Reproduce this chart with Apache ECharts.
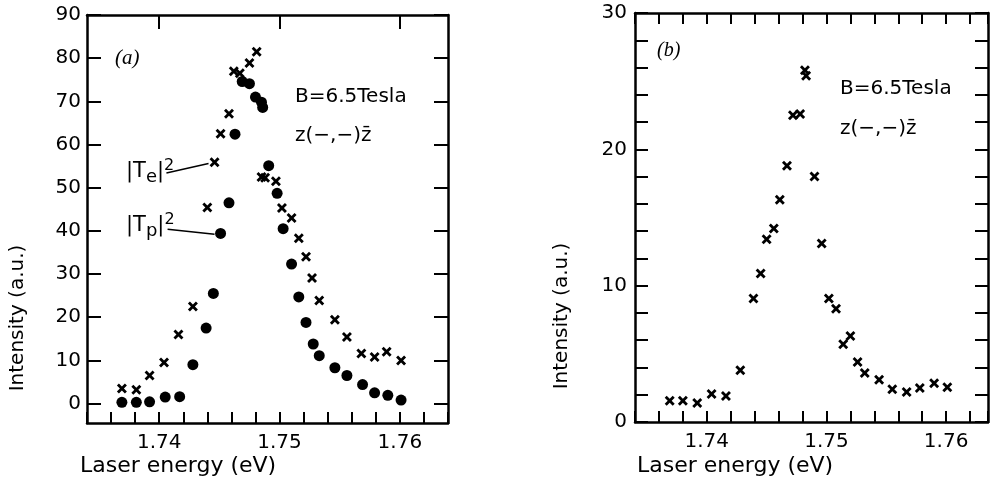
<!DOCTYPE html>
<html>
<head>
<meta charset="utf-8">
<script src="https://cdn.jsdelivr.net/npm/echarts@6/dist/echarts.min.js"></script>
<style>
  html, body { margin: 0; padding: 0; background: #fff; }
  #main { width: 1002px; height: 487px; }
</style>
</head>
<body>
<div id="main"></div>
<script>
// panel (a): |Te|^2 (crosses) and |Tp|^2 (dots)
const teEnergy = [1.7369, 1.7381, 1.7392, 1.7404, 1.7416, 1.7428, 1.7440, 1.7446, 1.7451, 1.7458,
  1.7462, 1.7467, 1.7475, 1.7481, 1.7485, 1.7488, 1.7497, 1.7502, 1.7510, 1.7516,
  1.7522, 1.7527, 1.7533, 1.7546, 1.7556, 1.7568, 1.7579, 1.7589, 1.7601];
const teValue = [3.5, 3.2, 6.5, 9.5, 16.0, 22.5, 45.4, 55.9, 62.5, 67.1,
  77.0, 76.5, 78.9, 81.5, 52.5, 52.3, 51.5, 45.3, 43.0, 38.3,
  34.0, 29.1, 23.9, 19.4, 15.4, 11.6, 10.8, 12.0, 10.0];

const tpEnergy = [1.7369, 1.7381, 1.7392, 1.7405, 1.7417, 1.7428, 1.7439, 1.7445, 1.7451, 1.7458,
  1.7463, 1.7469, 1.7475, 1.7480, 1.7485, 1.7486, 1.7491, 1.7498, 1.7503, 1.7510,
  1.7516, 1.7522, 1.7528, 1.7533, 1.7546, 1.7556, 1.7569, 1.7579, 1.7590, 1.7601];
const tpValue = [0.3, 0.3, 0.4, 1.5, 1.6, 9.0, 17.5, 25.5, 39.4, 46.5,
  62.4, 74.6, 74.1, 71.0, 69.8, 68.6, 55.1, 48.7, 40.5, 32.3,
  24.7, 18.8, 13.8, 11.1, 8.3, 6.5, 4.4, 2.5, 1.9, 0.8];

// leader lines from the labels to the points (energy, intensity)
const teLeader = [[1.7406, 53.4], [1.7441, 55.6]];
const tpLeader = [[1.7407, 40.4], [1.7446, 39.2]];

// panel (b)
const bEnergy = [1.7369, 1.7380, 1.7392, 1.7404, 1.7416, 1.7428, 1.7439, 1.7445, 1.7450, 1.7456,
  1.7461, 1.7467, 1.7472, 1.7478, 1.7482, 1.7483, 1.7490, 1.7496, 1.7502, 1.7508,
  1.7514, 1.7520, 1.7526, 1.7532, 1.7544, 1.7555, 1.7567, 1.7578, 1.7590, 1.7601];
const bValue = [1.55, 1.55, 1.4, 2.05, 1.9, 3.8, 9.05, 10.9, 13.4, 14.2,
  16.3, 18.8, 22.5, 22.6, 25.8, 25.4, 18.0, 13.1, 9.05, 8.3,
  5.7, 6.3, 4.4, 3.6, 3.1, 2.4, 2.2, 2.5, 2.85, 2.55];

const aYTicks = [0, 10, 20, 30, 40, 50, 60, 70, 80, 90];
const xLabels = [1.74, 1.75, 1.76];

const pairs = (xs, ys) => xs.map((x, i) => [x, ys[i]]);

// bold X marker
const cross = 'path://M2,0L5,3L8,0L10,2L7,5L10,8L8,10L5,7L2,10L0,8L3,5L0,2Z';
const font = 'DejaVu Sans';
const black = '#000';

const axisLine = { show: true, onZero: false, lineStyle: { color: black, width: 2.5 } };

function xFmt(v) {
  return Math.abs(v * 100 - Math.round(v * 100)) < 1e-6 ? v.toFixed(2) : '';
}

function xAxes(grid, max, topTicks) {
  return [
    {
      gridIndex: grid, type: 'value', position: 'bottom', min: 1.734, max: max, interval: 0.002,
      axisLine: axisLine,
      axisTick: { inside: true, length: 11, lineStyle: { color: black, width: 2 } },
      axisLabel: { formatter: xFmt, fontFamily: font, fontSize: 20, color: black, margin: 10, showMinLabel: true, showMaxLabel: true },
      splitLine: { show: false }
    },
    {
      gridIndex: grid, type: 'value', position: 'top', min: 1.734, max: max, interval: 0.002,
      axisLine: axisLine,
      axisTick: topTicks
        ? { inside: true, length: 14, customValues: xLabels, lineStyle: { color: black, width: 2 } }
        : { inside: true, length: 11, lineStyle: { color: black, width: 2 } },
      axisLabel: { show: false },
      splitLine: { show: false }
    }
  ];
}

const chart = echarts.init(document.getElementById('main'));

const markStyle = { color: black, opacity: 1 };

chart.setOption({
  backgroundColor: '#fff',
  animation: false,
  grid: [
    { left: 87, top: 15, width: 361, height: 408 },
    { left: 635, top: 13, width: 353, height: 409 }
  ],
  xAxis: [].concat(xAxes(0, 1.764, true), xAxes(1, 1.7635, false)),
  yAxis: [
    {
      gridIndex: 0, type: 'value', position: 'left', min: -4.5, max: 90,
      axisLine: axisLine,
      axisTick: { inside: true, length: 14, customValues: aYTicks, lineStyle: { color: black, width: 2 } },
      axisLabel: { customValues: aYTicks, fontFamily: font, fontSize: 20, color: black, margin: 6 },
      splitLine: { show: false }
    },
    {
      gridIndex: 0, type: 'value', position: 'right', min: -4.5, max: 90,
      axisLine: axisLine,
      axisTick: { inside: true, length: 14, customValues: aYTicks, lineStyle: { color: black, width: 2 } },
      axisLabel: { show: false },
      splitLine: { show: false }
    },
    {
      gridIndex: 1, type: 'value', position: 'left', min: 0, max: 30, interval: 2,
      axisLine: axisLine,
      axisTick: { inside: true, length: 13, lineStyle: { color: black, width: 2 } },
      axisLabel: {
        formatter: v => (v % 10 === 0 ? String(v) : ''),
        fontFamily: font, fontSize: 20, color: black, margin: 8
      },
      splitLine: { show: false }
    },
    {
      gridIndex: 1, type: 'value', position: 'right', min: 0, max: 30, interval: 2,
      axisLine: axisLine,
      axisTick: { inside: true, length: 13, lineStyle: { color: black, width: 2 } },
      axisLabel: { show: false },
      splitLine: { show: false }
    }
  ],
  series: [
    {
      name: '|Te|2', type: 'scatter', xAxisIndex: 0, yAxisIndex: 0,
      symbol: cross, symbolSize: 10, itemStyle: markStyle,
      data: pairs(teEnergy, teValue)
    },
    {
      name: '|Tp|2', type: 'scatter', xAxisIndex: 0, yAxisIndex: 0,
      symbol: 'circle', symbolSize: 11, itemStyle: markStyle,
      data: pairs(tpEnergy, tpValue)
    },
    {
      type: 'line', xAxisIndex: 0, yAxisIndex: 0, symbol: 'none', silent: true,
      lineStyle: { color: black, width: 1.5 }, data: teLeader
    },
    {
      type: 'line', xAxisIndex: 0, yAxisIndex: 0, symbol: 'none', silent: true,
      lineStyle: { color: black, width: 1.5 }, data: tpLeader
    },
    {
      name: '(b)', type: 'scatter', xAxisIndex: 2, yAxisIndex: 2,
      symbol: cross, symbolSize: 10, itemStyle: markStyle,
      data: pairs(bEnergy, bValue)
    }
  ],
  graphic: [
    // axis titles
    { type: 'text', x: 18, y: 318, rotation: Math.PI / 2,
      style: { text: 'Intensity (a.u.)', font: '20px "DejaVu Sans"', fill: black, align: 'center', verticalAlign: 'middle' } },
    { type: 'text', x: 562, y: 316, rotation: Math.PI / 2,
      style: { text: 'Intensity (a.u.)', font: '20px "DejaVu Sans"', fill: black, align: 'center', verticalAlign: 'middle' } },
    { type: 'text', x: 80, y: 466,
      style: { text: 'Laser energy (eV)', font: '22px "DejaVu Sans"', fill: black, align: 'left', verticalAlign: 'middle' } },
    { type: 'text', x: 637, y: 466,
      style: { text: 'Laser energy (eV)', font: '22px "DejaVu Sans"', fill: black, align: 'left', verticalAlign: 'middle' } },
    // panel (a) annotations
    { type: 'text', x: 115, y: 58,
      style: { text: '(a)', font: 'italic 21px "Liberation Serif"', fill: black, align: 'left', verticalAlign: 'middle' } },
    { type: 'text', x: 295, y: 97,
      style: { text: 'B=6.5Tesla', font: '20px "DejaVu Sans"', fill: black, align: 'left', verticalAlign: 'middle' } },
    { type: 'text', x: 295, y: 136,
      style: { text: 'z(\u2212,\u2212)z\u0304', font: '20px "DejaVu Sans"', fill: black, align: 'left', verticalAlign: 'middle' } },
    { type: 'text', x: 126, y: 172,
      style: {
        text: '{n||T}{s|e}{n||}{p|2}', fill: black, align: 'left', verticalAlign: 'middle',
        rich: {
          n: { fontFamily: font, fontSize: 21, lineHeight: 28, verticalAlign: 'middle' },
          s: { fontFamily: font, fontSize: 18, lineHeight: 28, verticalAlign: 'bottom' },
          p: { fontFamily: font, fontSize: 16, lineHeight: 28, verticalAlign: 'top' }
        }
      } },
    { type: 'text', x: 126, y: 226,
      style: {
        text: '{n||T}{s|p}{n||}{p|2}', fill: black, align: 'left', verticalAlign: 'middle',
        rich: {
          n: { fontFamily: font, fontSize: 21, lineHeight: 28, verticalAlign: 'middle' },
          s: { fontFamily: font, fontSize: 18, lineHeight: 28, verticalAlign: 'bottom' },
          p: { fontFamily: font, fontSize: 16, lineHeight: 28, verticalAlign: 'top' }
        }
      } },
    // panel (b) annotations
    { type: 'text', x: 657, y: 51,
      style: { text: '(b)', font: 'italic 20px "Liberation Serif"', fill: black, align: 'left', verticalAlign: 'middle' } },
    { type: 'text', x: 840, y: 89,
      style: { text: 'B=6.5Tesla', font: '20px "DejaVu Sans"', fill: black, align: 'left', verticalAlign: 'middle' } },
    { type: 'text', x: 840, y: 129,
      style: { text: 'z(\u2212,\u2212)z\u0304', font: '20px "DejaVu Sans"', fill: black, align: 'left', verticalAlign: 'middle' } }
  ]
});
</script>
</body>
</html>
